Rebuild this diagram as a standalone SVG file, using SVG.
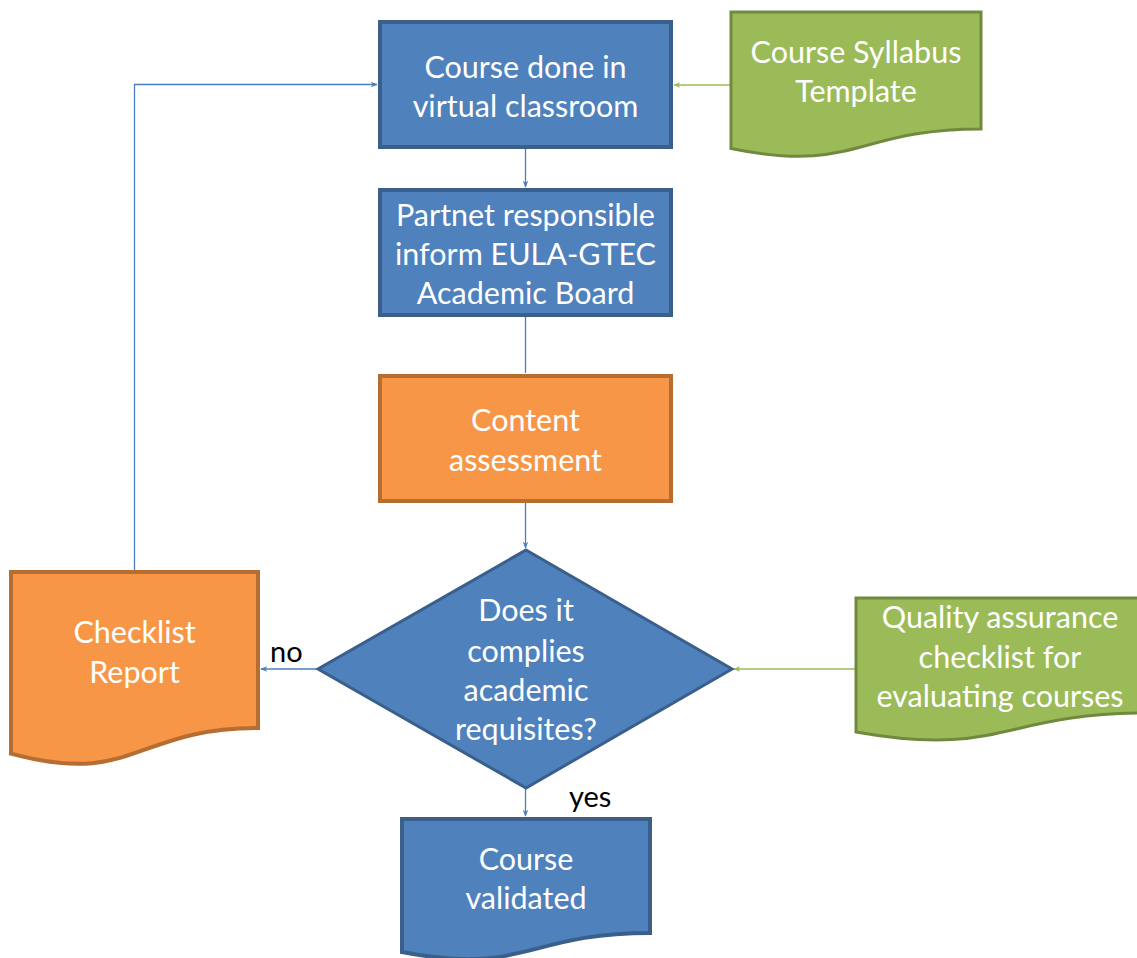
<svg xmlns="http://www.w3.org/2000/svg" width="1137" height="958" viewBox="0 0 1137 958">
<style>
.blue{fill:#4F81BD;stroke:#3A5F8A;stroke-width:4}
.orange{fill:#F79646;stroke:#B66D31;stroke-width:4}
.green{fill:#9BBB59;stroke:#71893F;stroke-width:3}
.dia{fill:#4F81BD;stroke:#3A5F8A;stroke-width:3}
.t{font-family:Lato,"Open Sans","Liberation Sans",sans-serif;font-size:30.5px;fill:#FFFFFF;text-anchor:middle}
.lbl{font-family:Lato,"Open Sans","Liberation Sans",sans-serif;font-size:29px;fill:#000000}
.cb{fill:none;stroke:#4A7EBB;stroke-width:1.3}
.cg{fill:none;stroke:#9BBB59;stroke-width:1.3}
</style>
<defs>
<marker id="ab" viewBox="0 0 10 10" refX="9" refY="5" markerWidth="7" markerHeight="7" markerUnits="userSpaceOnUse" orient="auto"><path d="M0,1 L10,5 L0,9 L3,5 Z" fill="#4A7EBB"/></marker>
<marker id="ag" viewBox="0 0 10 10" refX="9" refY="5" markerWidth="7" markerHeight="7" markerUnits="userSpaceOnUse" orient="auto"><path d="M0,1 L10,5 L0,9 L3,5 Z" fill="#9BBB59"/></marker>
</defs>
<rect width="1137" height="958" fill="#FFFFFF"/>
<g id="connectors">
<path class="cb" d="M525.5,148 V187" marker-end="url(#ab)"/>
<path class="cb" d="M525.5,316 V373"/>
<path class="cb" d="M525.5,502 V548" marker-end="url(#ab)"/>
<path class="cb" d="M318,669 H261" marker-end="url(#ab)"/>
<path class="cb" d="M525.5,788 V816" marker-end="url(#ab)"/>
<path class="cb" d="M134.5,572 V84.5 H377" marker-end="url(#ab)"/>
<path class="cg" d="M731,85 H674" marker-end="url(#ag)"/>
<path class="cg" d="M855,669 H734" marker-end="url(#ag)"/>
<text class="lbl" x="270" y="662">no</text>
<text class="lbl" x="569" y="807">yes</text>
</g>
<g id="course-done">
<rect class="blue" x="380" y="22" width="291" height="125"/>
<text class="t" x="525.5" y="78">Course done in</text>
<text class="t" x="525.5" y="117">virtual classroom</text>
</g>
<g id="partner-inform">
<rect class="blue" x="380" y="190" width="291" height="125"/>
<text class="t" x="525.5" y="226">Partnet responsible</text>
<text class="t" x="525.5" y="265">inform EULA-GTEC</text>
<text class="t" x="525.5" y="304">Academic Board</text>
</g>
<g id="content-assessment">
<rect class="orange" x="380" y="376" width="291" height="125"/>
<text class="t" x="525.5" y="431">Content</text>
<text class="t" x="525.5" y="471">assessment</text>
</g>
<g id="decision">
<path class="dia" d="M526,550 L732,669 L526,788 L318,669 Z"/>
<text class="t" x="526" y="621">Does it</text>
<text class="t" x="526" y="662">complies</text>
<text class="t" x="526" y="701">academic</text>
<text class="t" x="526" y="740">requisites?</text>
</g>
<g id="course-syllabus">
<path class="green" d="M731,12 H981 V129 C856,129 856,174 731,148.5 Z"/>
<text class="t" x="856" y="63">Course Syllabus</text>
<text class="t" x="856" y="102">Template</text>
</g>
<g id="checklist-report">
<path class="orange" d="M11,572 H258 V728 C134.5,728 134.5,787 11,753.6 Z"/>
<text class="t" x="134.5" y="643">Checklist</text>
<text class="t" x="134.5" y="683">Report</text>
</g>
<g id="qa-checklist">
<path class="green" d="M856,598 H1148 V713 C1002,713 1002,758 856,732 Z"/>
<text class="t" x="1000" y="628">Quality assurance</text>
<text class="t" x="1000" y="668">checklist for</text>
<text class="t" x="1000" y="707">evaluating courses</text>
</g>
<g id="course-validated">
<path class="blue" d="M402,819 H650 V933 C526,933 526,976 402,952 Z"/>
<text class="t" x="526" y="870">Course</text>
<text class="t" x="526" y="909">validated</text>
</g>
</svg>
